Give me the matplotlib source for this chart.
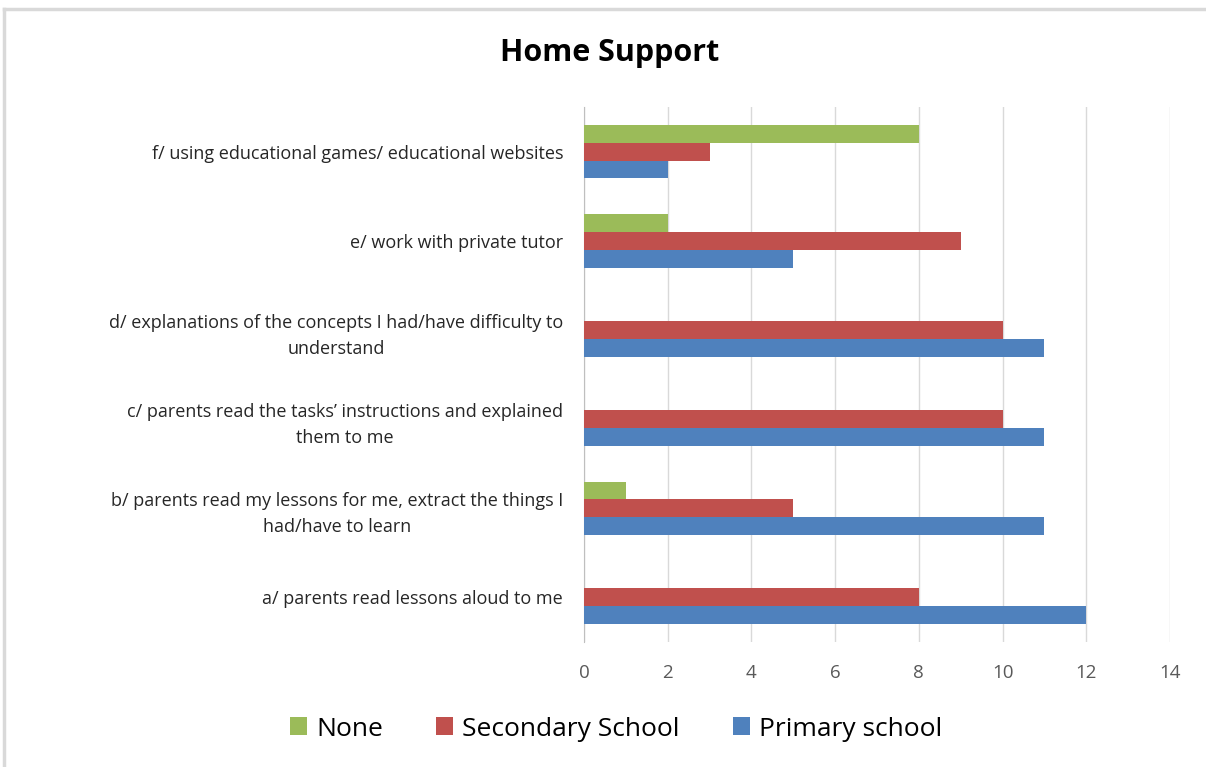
import numpy as np
import matplotlib.pyplot as plt
from matplotlib.lines import Line2D

# Home support survey answers, listed bottom to top
categories = [
    "a/ parents read lessons aloud to me",
    "b/ parents read my lessons for me, extract the things I\nhad/have to learn",
    "c/ parents read the tasks\u2019 instructions and explained\nthem to me",
    "d/ explanations of the concepts I had/have difficulty to\nunderstand",
    "e/ work with private tutor",
    "f/ using educational games/ educational websites",
]
primary = [12, 11, 11, 11, 5, 2]
secondary = [8, 5, 10, 10, 9, 3]
none = [0, 1, 0, 0, 2, 8]

colors = {"None": "#9BBB59", "Secondary School": "#C0504D", "Primary school": "#4F81BD"}

plt.rcParams["font.family"] = ["Open Sans", "DejaVu Sans"]

fig = plt.figure(figsize=(12.06, 7.67), dpi=100)
ax = fig.add_axes([584 / 1206, 1 - 642 / 767, 586 / 1206, 535 / 767])

# light chart frame (top and left edges only)
fx = 4 / 1206
fy = 1 - 9 / 767
fig.lines.append(Line2D([fx, 1.0], [fy, fy], transform=fig.transFigure,
                        color="#D9D9D9", linewidth=2.5))
fig.lines.append(Line2D([fx, fx], [0.0, fy], transform=fig.transFigure,
                        color="#D9D9D9", linewidth=2.5))

y = np.arange(len(categories))
h = 0.2
ax.barh(y - h, primary, height=h, color=colors["Primary school"], label="Primary school", zorder=3)
ax.barh(y, secondary, height=h, color=colors["Secondary School"], label="Secondary School", zorder=3)
ax.barh(y + h, none, height=h, color=colors["None"], label="None", zorder=3)

ax.set_xlim(0, 14)
ax.set_ylim(-0.5, len(categories) - 0.5)
ax.set_xticks(range(0, 15, 2))
ax.set_yticks(y)
ax.set_yticklabels(categories, multialignment="center", linespacing=1.55)
ax.tick_params(axis="y", length=0, pad=15, labelsize=13, labelcolor="#262626")
ax.tick_params(axis="x", length=0, pad=16, labelsize=13.5, labelcolor="#595959")
ax.grid(axis="x", color="#D9D9D9", linewidth=1, zorder=0)
for s in ["top", "right", "bottom"]:
    ax.spines[s].set_visible(False)
ax.spines["left"].set_color("#BFBFBF")

fig.text(610 / 1206, 1 - 53 / 767, "Home Support", ha="center", va="center",
         fontsize=22, fontweight="bold")

handles, labels = ax.get_legend_handles_labels()
order = [2, 1, 0]
fig.legend([handles[i] for i in order], [labels[i] for i in order],
           loc="center", bbox_to_anchor=(616 / 1206, 1 - 729 / 767), ncol=3,
           frameon=False, fontsize=19, handlelength=0.65, handleheight=0.65,
           handletextpad=0.35, columnspacing=2.0)

fig.savefig("out.png", dpi=100, facecolor="white")
